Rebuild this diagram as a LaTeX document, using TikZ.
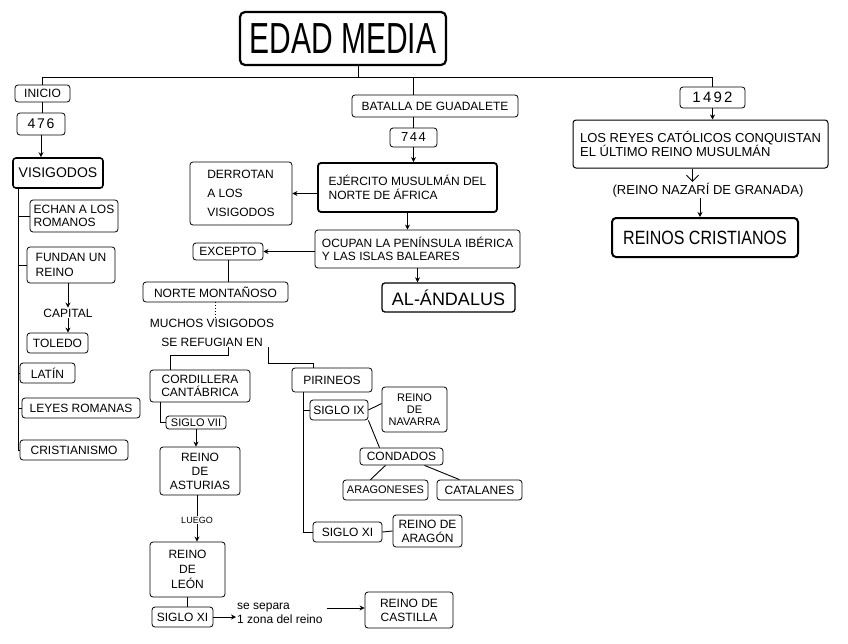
\documentclass[tikz,border=0pt]{standalone}
\usepackage{fontspec}
\usepackage{graphicx}
\setmainfont{Liberation Sans}
\usetikzlibrary{arrows.meta}
\begin{document}
\begin{tikzpicture}[x=1pt,y=-1pt,
  bx/.style={draw, rounded corners=3pt, line width=0.8pt, inner sep=2pt, align=center, font=\fontsize{12}{14}\selectfont},
  txt/.style={inner sep=1pt, align=center, font=\fontsize{12}{14}\selectfont},
  ln/.style={line width=0.9pt},
  arr/.style={ln, -{Stealth[length=5pt,width=5pt]}},
  oarr/.style={ln, -{Straight Barb[length=6pt,width=12pt]}}]
\useasboundingbox (0,0) rectangle (848,643);
% title
\node[bx, line width=2.2pt, rounded corners=5pt, minimum width=206pt, minimum height=53pt, font=\fontsize{30}{30}\selectfont] (edad) at (343,38.5) {\scalebox{1}[1.45]{EDAD MEDIA}};
% left column
\node[bx, minimum width=55pt, minimum height=17pt] (inicio) at (42.5,93.5) {INICIO};
\node[bx, minimum width=48pt, minimum height=22pt, font=\fontsize{14}{14}\selectfont\addfontfeatures{LetterSpace=12}] (n476) at (41,124) {476};
\node[bx, line width=1.6pt, minimum width=90pt, minimum height=30pt, font=\fontsize{14}{14}\selectfont] (visig) at (58,173) {VISIGODOS};
\node[bx, minimum width=88pt, minimum height=32pt, align=left, font=\fontsize{12}{13}\selectfont] (echan) at (74,216) {ECHAN A LOS\\ROMANOS};
\node[bx, minimum width=88pt, minimum height=36pt, align=left, font=\fontsize{12}{15}\selectfont] (fundan) at (71,265) {FUNDAN UN\\REINO};
\node[txt] (capital) at (68,313) {CAPITAL};
\node[bx, minimum width=61pt, minimum height=20pt] (toledo) at (57.5,343) {TOLEDO};
\node[bx, minimum width=55pt, minimum height=20pt] (latin) at (47.5,373) {LATÍN};
\node[bx, minimum width=118pt, minimum height=20pt] (leyes) at (81,408) {LEYES ROMANAS};
\node[bx, minimum width=108pt, minimum height=20pt] (cristianismo) at (74,450) {CRISTIANISMO};
% middle
\node[bx, minimum width=166pt, minimum height=22pt] (batalla) at (435,106) {BATALLA DE GUADALETE};
\node[bx, minimum width=47pt, minimum height=19pt, font=\fontsize{13}{13}\selectfont\addfontfeatures{LetterSpace=12}] (n744) at (413.5,137.5) {744};
\node[bx, line width=1.8pt, minimum width=179pt, minimum height=49pt, align=left, font=\fontsize{12}{14}\selectfont] (ejercito) at (407.5,187.5) {EJÉRCITO MUSULMÁN DEL\\NORTE DE ÁFRICA};
\node[bx, minimum width=102pt, minimum height=63pt, align=left, font=\fontsize{12}{19}\selectfont] (derrotan) at (241,193.5) {DERROTAN\\A LOS\\VISIGODOS};
\node[bx, minimum width=205pt, minimum height=38pt, align=left, font=\fontsize{12}{13}\selectfont] (ocupan) at (417.5,249) {OCUPAN LA PENÍNSULA IBÉRICA\\Y LAS ISLAS BALEARES};
\node[bx, minimum width=70pt, minimum height=17pt] (excepto) at (228,251.5) {EXCEPTO};
\node[bx, minimum width=145pt, minimum height=20pt] (norte) at (215.5,292) {NORTE MONTAÑOSO};
\node[bx, line width=1.3pt, minimum width=133pt, minimum height=29pt, font=\fontsize{18}{18}\selectfont] (andalus) at (448.5,297.5) {AL-ÁNDALUS};
\node[txt, font=\fontsize{12}{19}\selectfont] (muchos) at (212,332.5) {MUCHOS VISIGODOS\\SE REFUGIAN EN};
% Cantabria branch
\node[bx, minimum width=100pt, minimum height=32pt, font=\fontsize{12}{13}\selectfont] (cordillera) at (200,386) {CORDILLERA\\CANTÁBRICA};
\node[bx, inner sep=1pt, minimum width=60pt, minimum height=13pt, font=\fontsize{11}{11}\selectfont] (sigloVII) at (196,422.5) {SIGLO VII};
\node[bx, minimum width=80pt, minimum height=48pt, font=\fontsize{12}{14}\selectfont] (asturias) at (200,471) {REINO\\DE\\ASTURIAS};
\node[txt, font=\fontsize{9}{10}\selectfont] (luego) at (197,520) {LUEGO};
\node[bx, minimum width=75pt, minimum height=55pt, font=\fontsize{12}{15}\selectfont] (leon) at (187.5,569.5) {REINO\\DE\\LEÓN};
\node[bx, minimum width=61pt, minimum height=20pt] (sigloXIa) at (182.5,617) {SIGLO XI};
\node[txt, anchor=west, align=left, font=\fontsize{12}{14}\selectfont] (separa) at (236,613) {se separa\\1 zona del reino};
\node[bx, minimum width=88pt, minimum height=36pt, font=\fontsize{12}{14}\selectfont] (castilla) at (409,610) {REINO DE\\CASTILLA};
% Pirineos branch
\node[bx, minimum width=80pt, minimum height=24pt] (pirineos) at (332,380) {PIRINEOS};
\node[bx, minimum width=58pt, minimum height=20pt] (sigloIX) at (339,410) {SIGLO IX};
\node[bx, minimum width=65pt, minimum height=45pt, font=\fontsize{11}{12}\selectfont] (navarra) at (414.5,409.5) {REINO\\DE\\NAVARRA};
\node[bx, minimum width=83pt, minimum height=17pt] (condados) at (401.5,456.5) {CONDADOS};
\node[bx, minimum width=85pt, minimum height=20pt, font=\fontsize{11}{12}\selectfont] (aragoneses) at (385.5,490) {ARAGONESES};
\node[bx, minimum width=85pt, minimum height=20pt] (catalanes) at (479.5,490) {CATALANES};
\node[bx, minimum width=69pt, minimum height=20pt] (sigloXIb) at (347.5,532) {SIGLO XI};
\node[bx, minimum width=69pt, minimum height=32pt, font=\fontsize{12}{14}\selectfont] (aragon) at (427.5,531) {REINO DE\\ARAGÓN};
% right
\node[bx, minimum width=65pt, minimum height=21pt, font=\fontsize{15}{15}\selectfont\addfontfeatures{LetterSpace=15}] (n1492) at (712.5,97.5) {1492};
\node[bx, line width=1pt, minimum width=255pt, minimum height=48pt, align=left, font=\fontsize{13}{14}\selectfont] (reyes) at (700.5,144) {LOS REYES CATÓLICOS CONQUISTAN\\EL ÚLTIMO REINO MUSULMÁN};
\node[txt, font=\fontsize{13}{14}\selectfont] (nazari) at (708,190) {(REINO NAZARÍ DE GRANADA)};
\node[bx, line width=2pt, rounded corners=4pt, minimum width=186pt, minimum height=39pt, font=\fontsize{16}{16}\selectfont] (cristianos) at (705,237.5) {\scalebox{1}[1.2]{REINOS CRISTIANOS}};
% coordinates
\coordinate (hub) at (358,77);
\coordinate (vt) at (18,0);
\coordinate (pt) at (303,0);
\coordinate (sepend) at (327,608);
% main tree
\draw[ln] (edad.south -| hub) -- (hub);
\draw[ln] (hub) -| (inicio.north);
\draw[ln] (hub) -| (n1492.north);
\draw[ln] (hub) -| ([xshift=-22pt]batalla.north);
% left column connectors
\draw[ln] (inicio.south) -- (inicio.south |- n476.north);
\draw[arr] (n476.south) -- (n476.south |- visig.north);
\draw[ln] (visig.south -| vt) |- (echan.west);
\draw[ln] (visig.south -| vt) |- (fundan.west);
\draw[ln] (visig.south -| vt) |- (latin.west);
\draw[ln] (visig.south -| vt) |- (leyes.west);
\draw[ln] (visig.south -| vt) |- (cristianismo.west);
\draw[arr] (fundan.south -| capital) -- (capital.north);
\draw[arr] (capital.south) -- (capital.south |- toledo.north);
% middle connectors
\draw[ln] (n744.north |- batalla.south) -- (n744.north);
\draw[arr] (n744.south) -- (n744.south |- ejercito.north);
\draw[arr] (derrotan.east -| ejercito.west) -- (derrotan.east);
\draw[arr] (ejercito.south) -- (ejercito.south |- ocupan.north);
\draw[arr] (ocupan.west |- excepto.east) -- (excepto.east);
\draw[arr] (ocupan.south) -- (ocupan.south |- andalus.north);
\draw[ln] (excepto.south) -- (excepto.south |- norte.north);
\draw[ln, dotted] (norte.south) -- (norte.south |- muchos.north);
\draw[ln] ([xshift=16pt]muchos.south) -- ++(0,8) -| ([xshift=-30pt]cordillera.north);
\draw[ln] ([xshift=56pt]muchos.south) -- ++(0,16) -| ([xshift=-19pt]pirineos.north);
% Cantabria connectors
\draw[ln] ([xshift=-40pt]cordillera.south) |- (sigloVII.west);
\draw[arr] (sigloVII.south) -- (sigloVII.south |- asturias.north);
\draw[ln] (luego.north |- asturias.south) -- (luego.north);
\draw[arr] (luego.south) -- (luego.south |- leon.north);
\draw[ln] (leon.south) -- (leon.south |- sigloXIa.north);
\draw[arr] (sigloXIa.east) -- (separa.west |- sigloXIa.east);
\draw[arr] (sepend) -- (castilla.west |- sepend);
% Pirineos connectors
\draw[ln] (pirineos.south -| pt) |- (sigloIX.west);
\draw[ln] (pirineos.south -| pt) |- (sigloXIb.west);
\draw[ln] (sigloIX.east) -- ([yshift=6pt]navarra.west);
\draw[ln] (sigloIX.south east) -- ([xshift=-22pt]condados.north);
\draw[ln] ([xshift=-16pt]condados.south) -- ([xshift=-15pt]aragoneses.north);
\draw[ln] ([xshift=23pt]condados.south) -- ([xshift=-20pt]catalanes.north);
\draw[ln] (sigloXIb.east) -- (aragon.west);
% right connectors
\draw[arr] (n1492.south) -- (n1492.south |- reyes.north);
\draw[oarr] ([xshift=-8pt]reyes.south) -- ([xshift=-8pt]reyes.south |- nazari.north);
\draw[arr] ([xshift=-8pt]nazari.south) -- ([xshift=-8pt]nazari.south |- cristianos.north);
\end{tikzpicture}
\end{document}
